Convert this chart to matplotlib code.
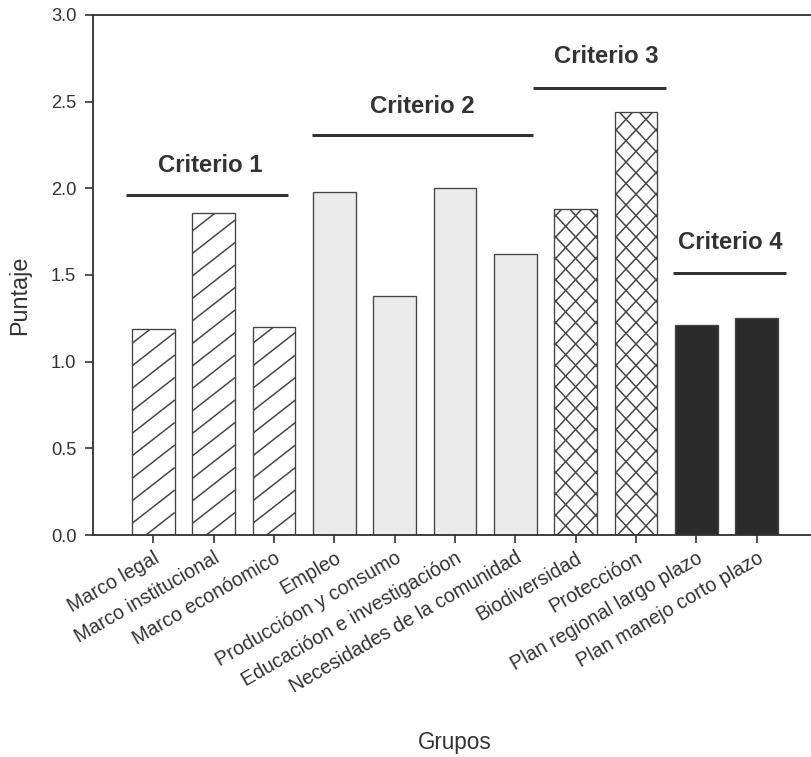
import numpy as np
import matplotlib; matplotlib.use('Agg')
import matplotlib.pyplot as plt
from matplotlib.collections import LineCollection

plt.rcParams.update({'font.family': ['Liberation Sans', 'DejaVu Sans'],
                     'axes.linewidth': 1.1})

# ---- data ----
grupos = ['Marco legal', 'Marco institucional', 'Marco econóomico', 'Empleo',
          'Produccióon y consumo', 'Educacióon e investigacióon',
          'Necesidades de la comunidad', 'Biodiversidad', 'Proteccióon',
          'Plan regional largo plazo', 'Plan manejo corto plazo']
puntaje = [1.19, 1.86, 1.20, 1.98, 1.38, 2.00, 1.62, 1.88, 2.44, 1.21, 1.25]
criterio = [1, 1, 1, 2, 2, 2, 2, 3, 3, 4, 4]
criterio_names = ['Criterio 1', 'Criterio 2', 'Criterio 3', 'Criterio 4']

# style per criterion: face colour, hatch angles (deg, screen) and spacing (px)
STY = {1: ('white', [38], 22.5), 2: ('#ebebeb', [], 0),
       3: ('white', [47, -47], 21.4), 4: ('#2b2b2b', [], 0)}
# bracket line (x0, x1, y) and label (x, y) per criterion, in data units
BRK = {1: (-0.45, 2.23, 1.96, 0.95, 2.13),
       2: (2.63, 6.30, 2.31, 4.45, 2.47),
       3: (6.30, 8.50, 2.58, 7.50, 2.76),
       4: (8.62, 10.49, 1.51, 9.57, 1.685)}

DPI = 120
INK = '#333333'
W, H = 811, 757
fig = plt.figure(figsize=(W / DPI, H / DPI), dpi=DPI)
ax = fig.add_axes([93 / W, (H - 535) / H, (817 - 93) / W, 520 / H])
ax.set_xlim(-1, 11)
ax.set_ylim(0, 3.0)

# pixels per data unit, to draw hatching at screen angles
p0, p1 = ax.transData.transform([(0, 0), (1, 1)])
sx, sy = p1 - p0


def hatch(bar, angles, gap):
    x0, w, h = bar.get_x(), bar.get_width(), bar.get_height()
    segs = []
    for a in angles:
        k = np.tan(np.radians(a)) * sx / sy  # slope in data units
        dv = gap / sy
        lo, hi = min(0, -k * w), max(h, h - k * w)
        for b in np.arange(lo - dv, hi + dv, dv):
            segs.append([(x0, b), (x0 + w, b + k * w)])
    lc = LineCollection(segs, colors='#444444', linewidths=0.9)
    ax.add_collection(lc)
    lc.set_clip_path(bar)


x = np.arange(len(grupos))
for xi, v, c in zip(x, puntaje, criterio):
    face, angles, gap = STY[c]
    bar = ax.bar(xi, v, 0.71, color=face, edgecolor='#444444', lw=0.8, zorder=2)[0]
    if angles:
        hatch(bar, angles, gap)

for c, name in zip(range(1, 5), criterio_names):
    x0, x1, y, tx, ty = BRK[c]
    ax.plot([x0, x1], [y, y], color=INK, lw=1.8, solid_capstyle='butt')
    ax.text(tx, ty, name, ha='center', va='center', fontsize=14.3,
            fontweight='bold', color=INK)

ax.set_yticks(np.arange(0, 3.01, 0.5))
ax.set_yticklabels([f'{t:.1f}' for t in np.arange(0, 3.01, 0.5)])
ax.set_xticks(x)
ax.set_xticklabels(grupos, rotation=30, ha='right', va='top', rotation_mode='anchor')
ax.tick_params(axis='x', length=5, width=1.0, pad=3, labelsize=11.8, colors=INK)
ax.tick_params(axis='y', length=5, width=1.0, pad=5, labelsize=11, colors=INK)
for s in ax.spines.values():
    s.set_color(INK)
ax.set_ylabel('Puntaje', fontsize=14, color=INK, va='center')
ax.set_xlabel('Grupos', fontsize=13.5, color=INK, va='center')
ax.xaxis.set_label_coords((455 - 93) / (817 - 93), -(742 - 535) / 520)
ax.yaxis.set_label_coords(-(93 - 20) / (817 - 93), (535 - 295) / 520)

fig.savefig('out.png', dpi=DPI)
